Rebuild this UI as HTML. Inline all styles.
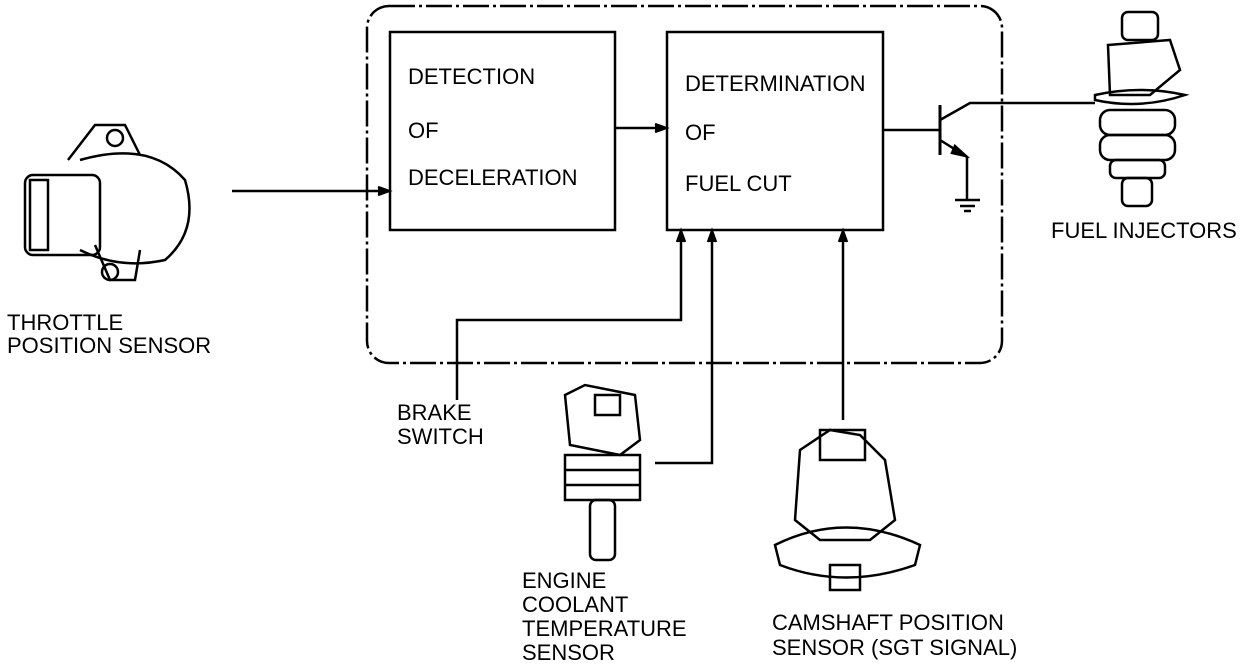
<!DOCTYPE html>
<html><head><style>
body{margin:0;background:#fff;}
svg{display:block;}
text{font-family:"Liberation Sans",sans-serif;font-size:22px;fill:#000;}
</style></head><body>
<svg width="1248" height="668" viewBox="0 0 1248 668" xmlns="http://www.w3.org/2000/svg">
<g fill="none" stroke="#000" stroke-width="2.5">
<rect x="367" y="6" width="635" height="357" rx="22" stroke-dasharray="26 4 3 4"/>
<rect x="390" y="32" width="225" height="198"/>
<rect x="667" y="32" width="216" height="198"/>
<line x1="232" y1="191" x2="388" y2="191"/>
<path d="M378 187 L389 191 L378 195" fill="#000"/>
<line x1="615" y1="128" x2="665" y2="128"/>
<path d="M655 124 L666 128 L655 132" fill="#000"/>
<polyline points="457,400 457,320 681,320 681,232"/>
<path d="M677 242 L681 231 L685 242" fill="#000"/>
<polyline points="655,463 712,463 712,232"/>
<path d="M708 242 L712 231 L716 242" fill="#000"/>
<line x1="843" y1="420" x2="843" y2="232"/>
<path d="M839 242 L843 231 L847 242" fill="#000"/>
<line x1="883" y1="130" x2="940" y2="130"/>
<line x1="940" y1="105" x2="940" y2="155" stroke-width="3"/>
<polyline points="940,120 970,103 1095,103"/>
<polyline points="940,140 967,157 967,200"/>
<path d="M955 146 L966 156 L952 153 Z" fill="#000"/>
<line x1="955" y1="200" x2="980" y2="200"/>
<line x1="960" y1="206" x2="975" y2="206"/>
<line x1="964" y1="211" x2="971" y2="211"/>
<rect x="1122" y="12" width="36" height="28" rx="6"/>
<path d="M1108 45 L1170 40 L1180 70 L1150 95 L1110 95 Z"/>
<path d="M1095 95 Q1140 85 1185 95 Q1140 110 1095 100 Z"/>
<rect x="1100" y="110" width="75" height="25" rx="10"/>
<rect x="1100" y="135" width="75" height="25" rx="10"/>
<rect x="1110" y="160" width="55" height="18" rx="6"/>
<rect x="1122" y="178" width="30" height="28" rx="6"/>
<path d="M68 160 L95 125 L125 125 L140 155"/>
<path d="M95 245 L110 280 L135 280 L140 250"/>
<path d="M80 160 Q150 140 185 180 Q200 230 165 260 Q120 270 80 250"/>
<rect x="25" y="175" width="75" height="80" rx="8"/>
<rect x="30" y="180" width="18" height="70"/>
<circle cx="115" cy="138" r="8"/><circle cx="110" cy="272" r="8"/>
<path d="M565 395 L585 385 L635 395 L640 440 L620 455 L570 445 Z"/>
<rect x="595" y="395" width="25" height="20"/>
<path d="M565 455 L640 455 L640 500 L565 500 Z"/>
<line x1="565" y1="470" x2="640" y2="470"/><line x1="565" y1="485" x2="640" y2="485"/>
<rect x="590" y="500" width="25" height="60" rx="6"/>
<path d="M800 450 L830 430 L860 435 L885 460 L895 520 L870 540 L820 540 L795 520 Z"/>
<rect x="820" y="430" width="45" height="30"/>
<path d="M775 545 Q845 510 920 545 L915 565 Q845 590 780 565 Z"/>
<rect x="830" y="565" width="30" height="25"/>
</g>
<text x="408" y="84">DETECTION</text>
<text x="408" y="138">OF</text>
<text x="408" y="185">DECELERATION</text>
<text x="685" y="91">DETERMINATION</text>
<text x="685" y="140">OF</text>
<text x="685" y="191">FUEL CUT</text>
<text x="1051" y="238">FUEL INJECTORS</text>
<text x="7" y="330">THROTTLE</text>
<text x="7" y="353">POSITION SENSOR</text>
<text x="397" y="420">BRAKE</text>
<text x="397" y="444">SWITCH</text>
<text x="522" y="588">ENGINE</text>
<text x="522" y="612">COOLANT</text>
<text x="522" y="636">TEMPERATURE</text>
<text x="522" y="660">SENSOR</text>
<text x="772" y="630">CAMSHAFT POSITION</text>
<text x="772" y="655">SENSOR (SGT SIGNAL)</text>
</svg>
</body></html>
